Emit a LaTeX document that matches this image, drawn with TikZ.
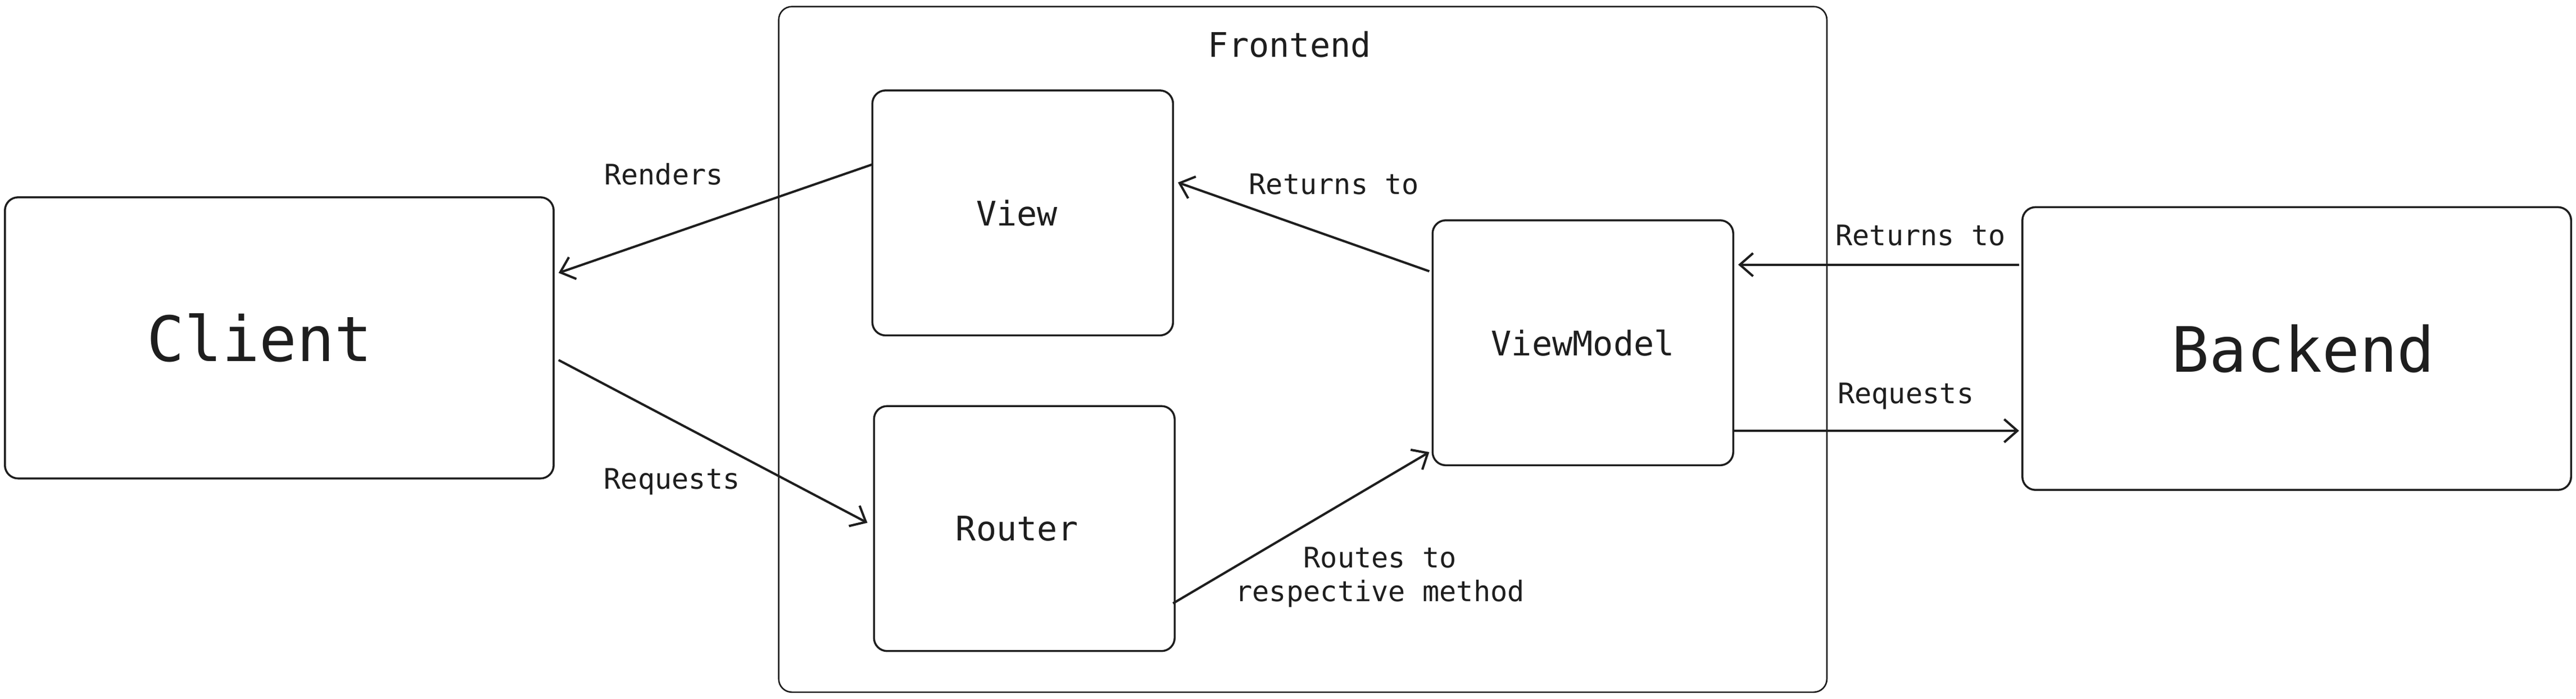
\documentclass[tikz,border=0pt]{standalone}
\usepackage{fontspec}
\setmainfont{DejaVu Sans Mono}
\usetikzlibrary{arrows.meta}
\definecolor{ink}{HTML}{1E1E1E}

\begin{document}
\begin{tikzpicture}[x=0.5pt,y=-0.5pt,color=ink,
	block/.style={draw,rounded corners=4pt,line width=0.6pt,inner sep=0,outer sep=0},
	arr/.style={line width=0.7pt,-{Straight Barb[length=4pt,width=7pt]}},
	lbl/.style={font=\fontsize{8.6}{10.2}\selectfont,inner sep=0,align=center}]
	\useasboundingbox (0,0) rectangle (1568,425);
	\node[block,line width=0.45pt,minimum width=319pt,minimum height=208.5pt] (frontend) at (793,212.5) {};
	\node[font=\fontsize{10.3}{12}\selectfont,inner sep=0] (title) at (785,27) {Frontend};
	\node[block,minimum width=167pt,minimum height=85.5pt,font=\fontsize{19}{22}\selectfont] (client) at (170,205.5) {\hspace*{-12pt}Client};
	\node[block,minimum width=91.5pt,minimum height=74.5pt,font=\fontsize{10.3}{12}\selectfont] (view) at (622.5,129.5) {\hspace*{-3.5pt}View};
	\node[block,minimum width=91.5pt,minimum height=74.5pt,font=\fontsize{10.3}{12}\selectfont] (router) at (623.5,321.5) {\hspace*{-4.5pt}Router};
	\node[block,minimum width=91.5pt,minimum height=74.5pt,font=\fontsize{10.3}{12}\selectfont] (vm) at (963.5,208.5) {ViewModel};
	\node[block,minimum width=167pt,minimum height=86pt,font=\fontsize{19}{22}\selectfont] (backend) at (1398,212) {\hspace*{4pt}Backend};
	\draw[arr] ([yshift=14.75pt]view.west) -- ([xshift=1.5pt,yshift=19.75pt]client.east);
	\draw[arr] ([xshift=1.5pt,yshift=-6.75pt]client.east) -- ([xshift=-2pt,yshift=1.75pt]router.west);
	\draw[arr] ([xshift=-1pt,yshift=21.75pt]vm.west) -- ([xshift=1.5pt,yshift=9.25pt]view.east);
	\draw[arr] ([xshift=-0.5pt,yshift=-22.75pt]router.east) -- ([xshift=-1pt,yshift=-33.25pt]vm.west);
	\draw[arr] ([xshift=-1pt,yshift=25.5pt]backend.west) -- ([xshift=1.5pt,yshift=23.75pt]vm.east);
	\draw[arr] ([yshift=-26.75pt]vm.east) -- ([xshift=-1pt,yshift=-25pt]backend.west);
	\node[lbl] (renders) at (404,106) {Renders};
	\node[lbl] (req1) at (409,293) {Requests};
	\node[lbl] (ret1) at (812,112) {Returns to};
	\node[lbl] (routes) at (840,351) {Routes to\\respective method};
	\node[lbl] (ret2) at (1169,143) {Returns to};
	\node[lbl] (req2) at (1160,241) {Requests};
\end{tikzpicture}
\end{document}
